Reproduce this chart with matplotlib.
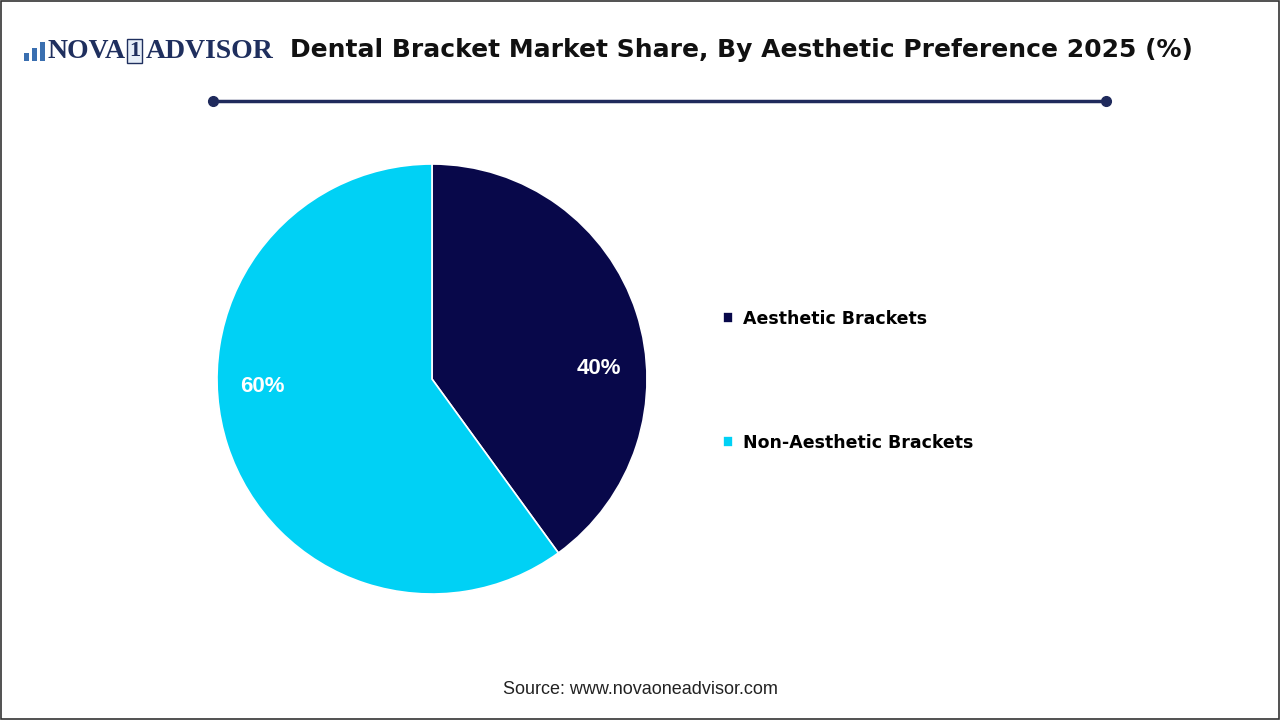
import matplotlib.pyplot as plt
from matplotlib.patches import Rectangle

categories = ['Aesthetic Brackets', 'Non-Aesthetic Brackets']
shares = [40, 60]
pct_labels = ['40%', '60%']
colors = ['#08084a', '#00d1f5']

fig = plt.figure(figsize=(12.8, 7.2), dpi=100)

# border
fig.patches.append(Rectangle((0.0005, 0.001), 0.999, 0.998, transform=fig.transFigure,
                             fill=False, edgecolor='#333333', linewidth=1.2))

# title
fig.text(0.579, 0.930, 'Dental Bracket Market Share, By Aesthetic Preference 2025 (%)',
         ha='center', va='center', fontsize=18, fontweight='bold', color='#111111',
         family='DejaVu Sans')

# logo
fig.text(47 / 1280, 0.929, 'NOVA', ha='left', va='center', fontsize=20, fontweight='bold',
         color='#1f2f5e', family='Liberation Serif')
fig.text(129 / 1280, 0.929, '1', ha='left', va='center', fontsize=16, fontweight='bold',
         color='#1f2f5e', family='Liberation Serif',
         bbox=dict(boxstyle='square,pad=0.08', fc='#e6eef8', ec='#1f2f5e', lw=1))
fig.text(146 / 1280, 0.929, 'ADVISOR', ha='left', va='center', fontsize=20, fontweight='bold',
         color='#1f2f5e', family='Liberation Serif')
lax = fig.add_axes([0.017, 0.915, 0.02, 0.028])
lax.bar([0, 1, 2], [0.45, 0.7, 1.0], width=0.6, color='#3a6fb0')
lax.set_xlim(-0.6, 2.6)
lax.set_ylim(0, 1.05)
lax.axis('off')

# separator line
lnax = fig.add_axes([0, 0, 1, 1], facecolor='none')
lnax.set_xlim(0, 1280)
lnax.set_ylim(720, 0)
lnax.axis('off')
lnax.plot([213, 1106], [101, 101], color='#1f2a5c', linewidth=2.5)
lnax.plot([213, 1106], [101, 101], 'o', color='#1f2a5c', markersize=7)

# pie
ax = fig.add_axes([0.3375 - 0.168, 0.4736 - 0.2986, 0.336, 0.5972])
wedges, _ = ax.pie(shares, colors=colors, startangle=90, counterclock=False,
                   wedgeprops=dict(edgecolor='white', linewidth=1.2))
ax.set_xlim(-1, 1)
ax.set_ylim(-1, 1)
ax.set_aspect('equal')
ax.text(0.775, 0.05, pct_labels[0], ha='center', va='center', fontsize=16,
        fontweight='bold', color='white', family='Liberation Sans')
ax.text(-0.79, -0.035, pct_labels[1], ha='center', va='center', fontsize=16,
        fontweight='bold', color='white', family='Liberation Sans')

# legend
fig.legend(wedges, categories, loc='center left', bbox_to_anchor=(723 / 1280, 1 - 381 / 720),
           frameon=False, borderaxespad=0, borderpad=0,
           handlelength=0.6, handleheight=0.6, handletextpad=0.55, labelspacing=6.1,
           prop=dict(family='DejaVu Sans', weight='bold', size=12.5))

# source
fig.text(0.5, 0.043, 'Source: www.novaoneadvisor.com', ha='center', va='center',
         fontsize=13, color='#222222', family='Liberation Sans')

fig.savefig('out.png', dpi=100)
